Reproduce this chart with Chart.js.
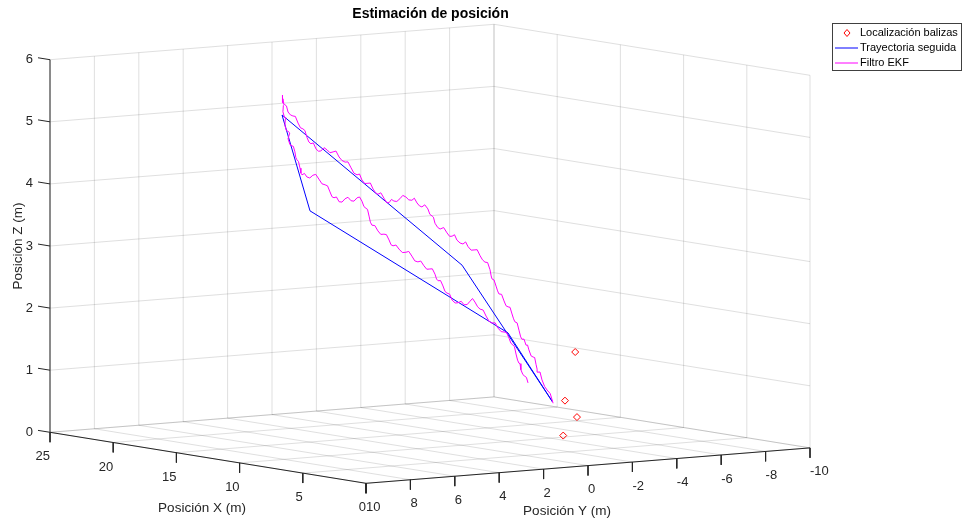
<!DOCTYPE html>
<html>
<head>
  <meta charset="UTF-8">
  <title>Estimación de posición</title>
  <script src="https://cdn.jsdelivr.net/npm/chart.js"></script>
  <style>
    body {
      margin: 0;
      background: #fff;
    }
    canvas {
      display: block;
    }
  </style>
</head>
<body>
  <canvas id="posChart" width="963" height="522"></canvas>

  <script>
// axis ticks (m)
const xTicks = [0, 5, 10, 15, 20, 25];
const yTicks = [-10, -8, -6, -4, -2, 0, 2, 4, 6, 8, 10];
const zTicks = [0, 1, 2, 3, 4, 5, 6];

// beacon positions (m)
const balizaX = [5, 5, 5, 5];
const balizaY = [-2.27, -1.81, -2.35, -1.73];
const balizaZ = [1.60, 0.83, 0.55, 0.27];

// reference path waypoints (m)
const trajX = [12, 12, 12, 12, 12, 12];
const trajY = [-5.24, -1.16, 6.95, 5.69, -3.23, -5.24];
const trajZ = [0.48, 2.80, 5.45, 3.87, 1.65, 0.48];

// EKF position estimate (m)
const ekfX = [
  12, 12, 12, 12, 12, 12, 12, 12, 12, 12, 12, 12, 12, 12, 12, 12, 12, 12, 12, 12,
  12, 12, 12, 12, 12, 12, 12, 12, 12, 12, 12, 12, 12, 12, 12, 12, 12, 12, 12, 12,
  12, 12, 12, 12, 12, 12, 12, 12, 12, 12, 12, 12, 12, 12, 12, 12, 12, 12, 12, 12,
  12, 12, 12, 12, 12, 12, 12, 12, 12, 12, 12, 12, 12, 12, 12, 12, 12, 12, 12, 12,
  12, 12, 12, 12, 12, 12, 12, 12, 12, 12, 12, 12, 12, 12, 12, 12, 12, 12, 12, 12,
  12, 12, 12, 12, 12, 12, 12, 12, 12, 12, 12, 12, 12, 12, 12, 12, 12, 12, 12, 12,
  12, 12, 12, 12, 12, 12, 12, 12, 12, 12, 12, 12, 12, 12, 12, 12, 12, 12, 12, 12,
  12, 12, 12, 12, 12, 12, 12, 12, 12, 12, 12, 12, 12, 12, 12, 12, 12, 12, 12, 12,
  12, 12, 12, 12, 12, 12, 12, 12, 12, 12, 12, 12, 12, 12, 12, 12, 12, 12, 12, 12,
  12, 12, 12, 12, 12, 12, 12, 12, 12, 12, 12, 12, 12, 12, 12, 12, 12, 12, 12, 12,
  12, 12, 12, 12, 12, 12, 12, 12, 12, 12, 12, 12, 12, 12, 12, 12, 12, 12, 12, 12,
  12, 12, 12, 12, 12, 12, 12, 12, 12
];
const ekfY = [
  -5.26, -5.13, -4.99, -4.88, -4.76, -4.67, -4.58, -4.54, -4.49, -4.43,
  -4.36, -4.27, -4.17, -4.11, -4.04, -3.95, -3.86, -3.80, -3.73, -3.64,
  -3.54, -3.48, -3.41, -3.32, -3.23, -3.14, -3.05, -2.94, -2.82, -2.76,
  -2.69, -2.60, -2.51, -2.47, -2.42, -2.31, -2.19, -2.08, -1.97, -1.84,
  -1.70, -1.57, -1.43, -1.32, -1.20, -1.07, -0.93, -0.82, -0.71, -0.60,
  -0.48, -0.33, -0.17, -0.06, 0.06, 0.13, 0.19, 0.29, 0.38, 0.52,
  0.65, 0.76, 0.87, 0.99, 1.10, 1.24, 1.37, 1.51, 1.64, 1.78,
  1.91, 2.02, 2.13, 2.25, 2.36, 2.50, 2.63, 2.74, 2.85, 2.97,
  3.08, 3.22, 3.35, 3.46, 3.57, 3.71, 3.84, 3.98, 4.11, 4.25,
  4.38, 4.52, 4.65, 4.79, 4.92, 5.06, 5.20, 5.31, 5.42, 5.54,
  5.65, 5.74, 5.83, 5.92, 6.01, 6.12, 6.23, 6.35, 6.46, 6.57,
  6.68, 6.75, 6.82, 6.87, 6.91, 6.93, 6.95,
  6.91, 6.86, 6.89, 6.91, 6.84, 6.77, 6.80, 6.82, 6.75, 6.68,
  6.60, 6.68, 6.59, 6.50, 6.44, 6.37, 6.33, 6.28, 6.21, 6.14,
  6.10, 6.05, 5.94, 5.83, 5.70, 5.56, 5.43, 5.29, 5.15, 5.01,
  4.90, 4.79, 4.70, 4.61, 4.50, 4.38, 4.25, 4.11, 3.98, 3.84,
  3.71, 3.57, 3.46, 3.35, 3.26, 3.17, 3.10, 3.03, 2.97, 2.90,
  2.77, 2.63, 2.50, 2.36, 2.25, 2.13, 2.04, 1.95, 1.82, 1.68,
  1.53, 1.37, 1.24, 1.10, 0.97, 0.83, 0.70, 0.56, 0.43, 0.29,
  0.18, 0.06, -0.01, -0.08, -0.19, -0.30, -0.39, -0.48, -0.60, -0.71,
  -0.85, -0.98, -1.12, -1.25, -1.39, -1.52, -1.63, -1.74, -1.86, -1.97,
  -2.11, -2.24, -2.38, -2.51, -2.65, -2.78, -2.92, -3.05, -3.16, -3.27,
  -3.36, -3.45, -3.52, -3.59, -3.66, -3.72, -3.77, -3.81, -3.90, -3.99,
  -4.06, -4.13
];
const ekfZ = [
  0.46, 0.62, 0.68, 0.74, 0.85, 0.98, 0.98, 1.03, 1.11, 1.22,
  1.23, 1.25, 1.35, 1.43, 1.43, 1.53, 1.53, 1.57, 1.67, 1.80,
  1.82, 1.87, 1.95, 2.06, 2.07, 2.09, 2.17, 2.28, 2.29, 2.34,
  2.42, 2.52, 2.54, 2.59, 2.69, 2.81, 2.82, 2.86, 2.93, 3.03,
  3.03, 3.03, 3.09, 3.17, 3.14, 3.16, 3.21, 3.30, 3.28, 3.28,
  3.34, 3.43, 3.41, 3.44, 3.51, 3.61, 3.63, 3.66, 3.75, 3.82,
  3.79, 3.81, 3.86, 3.94, 3.91, 3.92, 3.97, 4.00, 3.95, 3.91,
  3.92, 3.95, 3.90, 3.91, 3.98, 4.07, 4.05, 4.08, 4.14, 4.24,
  4.24, 4.24, 4.30, 4.40, 4.39, 4.42, 4.51, 4.61, 4.61, 4.64,
  4.70, 4.80, 4.79, 4.78, 4.83, 4.87, 4.82, 4.82, 4.86, 4.96,
  4.95, 4.98, 5.06, 5.17, 5.20, 5.22, 5.30, 5.41, 5.42, 5.44,
  5.49, 5.59, 5.61, 5.63, 5.71, 5.77, 5.76,
  5.65, 5.62, 5.60, 5.50, 5.41, 5.40, 5.38, 5.28, 5.19, 5.18,
  5.15, 5.06, 4.96, 4.94, 4.93, 4.84, 4.75, 4.71, 4.68, 4.57,
  4.49, 4.46, 4.48, 4.42, 4.40, 4.44, 4.45, 4.37, 4.29, 4.27,
  4.25, 4.15, 4.07, 4.05, 4.06, 3.98, 3.97, 4.02, 4.04, 3.98,
  3.97, 4.02, 4.03, 3.96, 3.87, 3.84, 3.82, 3.71, 3.61, 3.56,
  3.55, 3.46, 3.40, 3.40, 3.39, 3.30, 3.22, 3.20, 3.21, 3.14,
  3.08, 3.08, 3.09, 3.01, 2.93, 2.91, 2.92, 2.84, 2.78, 2.78,
  2.78, 2.69, 2.61, 2.58, 2.58, 2.49, 2.40, 2.37, 2.35, 2.25,
  2.20, 2.20, 2.22, 2.16, 2.16, 2.21, 2.25, 2.19, 2.11, 2.07,
  2.05, 1.95, 1.86, 1.83, 1.83, 1.74, 1.68, 1.67, 1.66, 1.57,
  1.48, 1.45, 1.42, 1.30, 1.20, 1.15, 1.14, 1.04, 0.96, 0.93,
  0.91, 0.82
];

const X0 = 0, X1 = 25, Y0 = -10, Y1 = 10, Z0 = 0, Z1 = 6;

// orthographic view of the axes box onto the canvas
function proj(x, y, z) {
  return {
    x: 366 - 12.64 * x - 22.2 * (y - 10),
    y: 483.3 - 2.04 * x + 1.77 * (y - 10) - 62.1 * z
  };
}

function path(xs, ys, zs) {
  return xs.map((x, i) => proj(x, ys[i], zs[i]));
}

// list of [[x,y,z],[x,y,z]] segments -> one broken polyline
function segments(list) {
  const out = [];
  list.forEach(([a, b]) => {
    out.push(proj(...a), proj(...b), { x: null, y: null });
  });
  return out;
}

const gridSegs = [];
// floor
xTicks.forEach(t => gridSegs.push([[t, Y0, Z0], [t, Y1, Z0]]));
yTicks.forEach(t => gridSegs.push([[X0, t, Z0], [X1, t, Z0]]));
// back wall x = 25
yTicks.forEach(t => gridSegs.push([[X1, t, Z0], [X1, t, Z1]]));
zTicks.forEach(t => gridSegs.push([[X1, Y0, t], [X1, Y1, t]]));
// back wall y = -10
xTicks.forEach(t => gridSegs.push([[t, Y0, Z0], [t, Y0, Z1]]));
zTicks.forEach(t => gridSegs.push([[X0, Y0, t], [X1, Y0, t]]));

const axisSegs = [
  [[X1, Y1, Z0], [X1, Y1, Z1]],
  [[X0, Y1, Z0], [X1, Y1, Z0]],
  [[X0, Y0, Z0], [X0, Y1, Z0]]
];
xTicks.forEach(t => axisSegs.push([[t, Y1, 0], [t, Y1, -0.16]]));
yTicks.forEach(t => axisSegs.push([[X0, t, 0], [X0, t, -0.16]]));
zTicks.forEach(t => axisSegs.push([[X1, Y1, t], [X1 + 0.95, Y1, t]]));

const FONT = '"Liberation Sans", Arial, sans-serif';
const TXT = '#262626';

const labelsPlugin = {
  id: 'labels3d',
  afterDraw(chart) {
    const { ctx } = chart;
    const sx = chart.scales.x, sy = chart.scales.y;
    const px = p => ({ x: sx.getPixelForValue(p.x), y: sy.getPixelForValue(p.y) });
    ctx.save();
    ctx.fillStyle = TXT;
    ctx.font = '13px ' + FONT;
    ctx.textBaseline = 'middle';

    // Z tick labels
    ctx.textAlign = 'right';
    zTicks.forEach(t => {
      const p = px(proj(X1, Y1, t));
      ctx.fillText(String(t), p.x - 17, p.y);
    });
    // X tick labels
    xTicks.forEach(t => {
      const p = px(proj(t, Y1, 0));
      ctx.fillText(String(t), p.x, p.y + 24.5);
    });
    // Y tick labels
    ctx.textAlign = 'left';
    yTicks.forEach(t => {
      const p = px(proj(X0, t, 0));
      ctx.fillText(String(t), p.x, p.y + 24);
    });

    // axis titles
    ctx.textAlign = 'center';
    ctx.font = '13.5px ' + FONT;
    ctx.fillText('Posición X (m)', 202, 508);
    ctx.fillText('Posición Y (m)', 567, 511);
    ctx.save();
    ctx.translate(18, 246);
    ctx.rotate(-Math.PI / 2);
    ctx.fillText('Posición Z (m)', 0, 0);
    ctx.restore();

    // title
    ctx.font = 'bold 14px ' + FONT;
    ctx.textBaseline = 'alphabetic';
    ctx.fillStyle = '#000';
    ctx.fillText('Estimación de posición', 430.5, 18);

    // legend
    const bx = 832.5, by = 23.5, bw = 129, bh = 47;
    ctx.fillStyle = '#fff';
    ctx.fillRect(bx, by, bw, bh);
    ctx.strokeStyle = '#404040';
    ctx.lineWidth = 1;
    ctx.strokeRect(bx, by, bw, bh);
    ctx.font = '11px ' + FONT;
    ctx.textAlign = 'left';
    ctx.textBaseline = 'middle';
    const items = chart.data.datasets.filter(d => d.label);
    items.forEach((d, i) => {
      const y = 33 + i * 15;
      ctx.strokeStyle = d.borderColor;
      ctx.lineWidth = 1;
      if (d.showLine) {
        ctx.beginPath();
        ctx.moveTo(835, y);
        ctx.lineTo(858, y);
        ctx.stroke();
      } else {
        ctx.beginPath();
        ctx.moveTo(847, y - 3.5);
        ctx.lineTo(850, y);
        ctx.lineTo(847, y + 3.5);
        ctx.lineTo(844, y);
        ctx.closePath();
        ctx.stroke();
      }
      ctx.fillStyle = '#000';
      ctx.fillText(d.label, 860, y);
    });
    ctx.restore();
  }
};

const ctx = document.getElementById('posChart').getContext('2d');
new Chart(ctx, {
  type: 'scatter',
  data: {
    datasets: [
      {
        label: 'Localización balizas',
        data: path(balizaX, balizaY, balizaZ),
        showLine: false,
        pointStyle: 'rectRot',
        pointRadius: 3.5,
        borderColor: '#ff0000',
        backgroundColor: 'rgba(255,255,255,0)',
        borderWidth: 1,
        order: 1
      },
      {
        label: 'Trayectoria seguida',
        data: path(trajX, trajY, trajZ),
        showLine: true,
        pointRadius: 0,
        borderColor: '#0000ff',
        borderWidth: 1,
        order: 3
      },
      {
        label: 'Filtro EKF',
        data: path(ekfX, ekfY, ekfZ),
        showLine: true,
        pointRadius: 0,
        borderColor: '#ff00ff',
        borderWidth: 1,
        order: 2
      },
      {
        data: segments(gridSegs),
        showLine: true,
        spanGaps: false,
        pointRadius: 0,
        borderColor: 'rgba(38,38,38,0.15)',
        borderWidth: 1,
        order: 10
      },
      {
        data: segments(axisSegs),
        showLine: true,
        spanGaps: false,
        pointRadius: 0,
        borderColor: '#262626',
        borderWidth: 1,
        order: 9
      }
    ]
  },
  options: {
    responsive: false,
    animation: false,
    devicePixelRatio: 1,
    layout: { padding: 0, autoPadding: false },
    scales: {
      x: { type: 'linear', min: 0, max: 963, display: false },
      y: { type: 'linear', min: 0, max: 522, reverse: true, display: false }
    },
    plugins: {
      legend: { display: false },
      tooltip: { enabled: false },
      title: { display: false }
    }
  },
  plugins: [labelsPlugin]
});
  </script>
</body>
</html>
